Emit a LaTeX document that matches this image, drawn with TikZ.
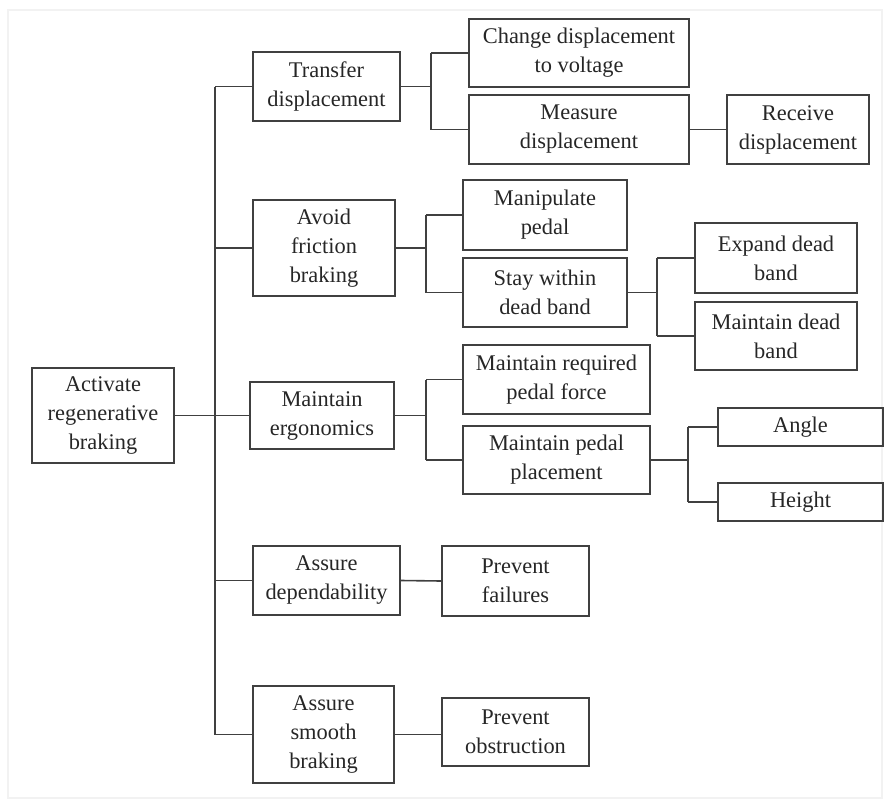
\documentclass[tikz,border=0pt]{standalone}
\usepackage{fontspec}
\setmainfont{LiberationSerif}[Extension=.ttf, UprightFont=*-Regular, BoldFont=*-Bold]
\begin{document}
\begin{tikzpicture}[x=1pt,y=-1pt,
  box/.style={draw=black!75, line width=1.6pt, rectangle, align=center,
    inner sep=0pt, text=black!85,
    font=\fontsize{22.4}{29}\selectfont},
  link/.style={draw=black!75, line width=1.6pt}]
  \useasboundingbox (0,0) rectangle (889,803);
  % faint page edge
  \draw[black!5, line width=1.5pt] (8,10) rectangle (882,798);

  % root
  \node[box, minimum width=142, minimum height=95] (act) at (103,415.5) {Activate\\regenerative\\braking};

  % first level
  \node[box, minimum width=147, minimum height=69] (td) at (326.5,86.5) {Transfer\\displacement};
  \node[box, minimum width=142, minimum height=96] (af) at (324,248) {Avoid\\friction\\braking};
  \node[box, minimum width=144, minimum height=67] (me) at (322,415.5) {Maintain\\ergonomics};
  \node[box, minimum width=147, minimum height=69] (ad) at (326.5,580.5) {Assure\\dependability};
  \node[box, minimum width=141, minimum height=97] (as) at (323.5,734.5) {Assure\\smooth\\braking};

  % second level
  \node[box, minimum width=220, minimum height=68] (cd) at (579,53) {Change displacement\\to voltage};
  \node[box, minimum width=220, minimum height=69] (md) at (579,129.5) {Measure\\displacement};
  \node[box, minimum width=164, minimum height=70] (mp) at (545,215) {Manipulate\\pedal};
  \node[box, minimum width=164, minimum height=69] (sw) at (545,292.5) {Stay within\\dead band};
  \node[box, minimum width=187, minimum height=69] (mrf) at (556.5,379.5) {Maintain required\\pedal force};
  \node[box, minimum width=187, minimum height=68] (mpp) at (556.5,460) {Maintain pedal\\placement};
  \node[box, minimum width=147, minimum height=70] (pf) at (515.5,581) {Prevent\\failures};
  \node[box, minimum width=147, minimum height=68] (po) at (515.5,732) {Prevent\\obstruction};

  % third level
  \node[box, minimum width=142, minimum height=69] (rd) at (798,129.5) {Receive\\displacement};
  \node[box, minimum width=162, minimum height=70] (ed) at (776,258) {Expand dead\\band};
  \node[box, minimum width=162, minimum height=68] (mdb) at (776,336) {Maintain dead\\band};
  \node[box, minimum width=165, minimum height=38] (ang) at (800.5,427) {Angle};
  \node[box, minimum width=165, minimum height=38] (hgt) at (800.5,502) {Height};

  % bracket spines
  \coordinate (T) at (215,0);
  \coordinate (B1) at (431,0);
  \coordinate (B2) at (426,0);
  \coordinate (B3) at (657,0);
  \coordinate (B4) at (688,0);

  % root to first level
  \draw[link] (act.east) -- (act.east -| T);
  \draw[link] (td.west -| T) -- (as.west -| T);
  \foreach \n in {td,af,me,ad,as}
    \draw[link] (\n.west -| T) -- (\n.west);

  % transfer displacement
  \draw[link] (td.east) -- (td.east -| B1);
  \draw[link] (cd.west -| B1) -- (md.west -| B1);
  \draw[link] (cd.west -| B1) -- (cd.west);
  \draw[link] (md.west -| B1) -- (md.west);
  \draw[link] (md.east) -- (rd.west);

  % avoid friction braking
  \draw[link] (af.east) -- (af.east -| B2);
  \draw[link] (mp.west -| B2) -- (sw.west -| B2);
  \draw[link] (mp.west -| B2) -- (mp.west);
  \draw[link] (sw.west -| B2) -- (sw.west);
  \draw[link] (sw.east) -- (sw.east -| B3);
  \draw[link] (ed.west -| B3) -- (mdb.west -| B3);
  \draw[link] (ed.west -| B3) -- (ed.west);
  \draw[link] (mdb.west -| B3) -- (mdb.west);

  % maintain ergonomics
  \draw[link] (me.east) -- (me.east -| B2);
  \draw[link] (mrf.west -| B2) -- (mpp.west -| B2);
  \draw[link] (mrf.west -| B2) -- (mrf.west);
  \draw[link] (mpp.west -| B2) -- (mpp.west);
  \draw[link] (mpp.east) -- (mpp.east -| B4);
  \draw[link] (ang.west -| B4) -- (hgt.west -| B4);
  \draw[link] (ang.west -| B4) -- (ang.west);
  \draw[link] (hgt.west -| B4) -- (hgt.west);

  % assure branches
  \draw[link] (ad.east) -- (pf.west);
  \draw[link] (as.east) -- (as.east -| po.west);
\end{tikzpicture}
\end{document}
